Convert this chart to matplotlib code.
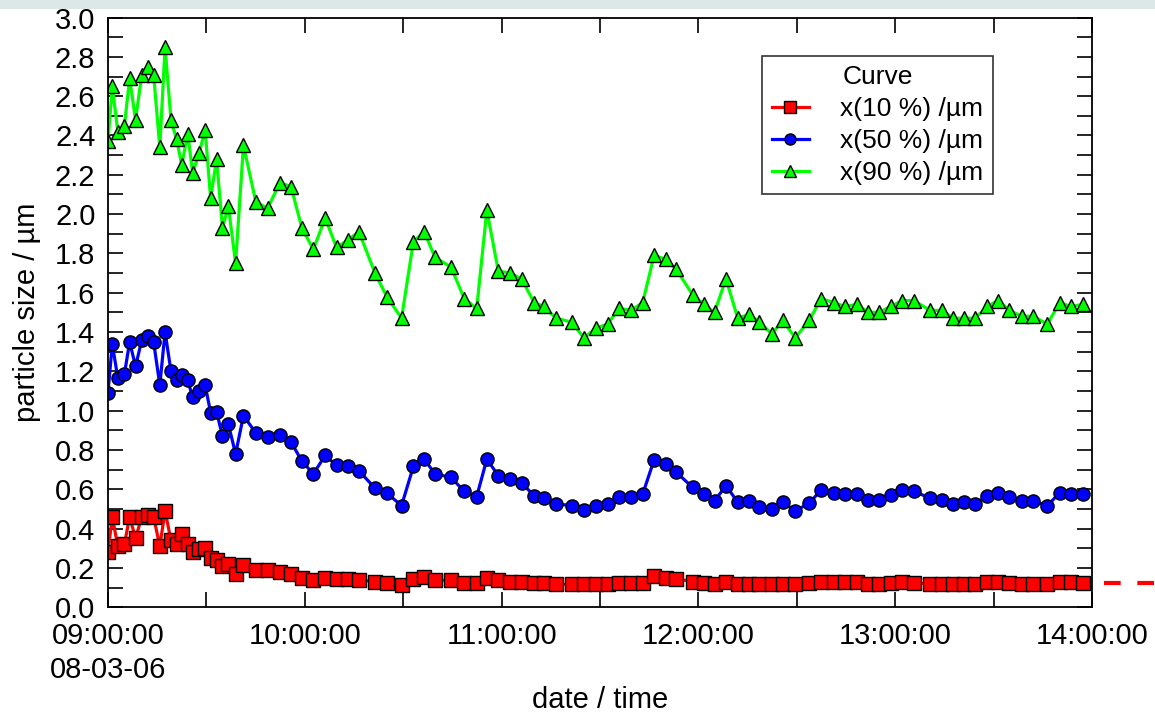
import datetime as dt
import matplotlib
matplotlib.use('Agg')
import matplotlib.pyplot as plt
import matplotlib.dates as mdates
from matplotlib.patches import Rectangle
from matplotlib.ticker import MultipleLocator

plt.rcParams['font.family'] = ['Liberation Sans', 'DejaVu Sans']

# minutes after 09:00:00 on 08-03-06
minutes = [0, 1.3, 3.0, 5.0, 6.6, 8.4, 10.3, 12.1, 13.9, 15.8, 17.4, 19.2, 20.9, 22.5,
           24.3, 25.8, 27.8, 29.6, 31.3, 33.1, 34.9, 36.7, 38.9, 41.3, 45.1, 48.7, 52.4, 55.8,
           59.1, 62.6, 66.2, 69.7, 73.3, 76.5, 81.4, 85.0, 89.5, 93.1, 96.4, 99.7, 104.6,
           108.6, 112.4, 115.5, 119.0, 122.6, 126.1, 129.9,
           132.9, 136.6, 141.4, 145.1, 148.8, 152.3, 155.8, 159.5, 163.0, 166.5, 170.0,
           173.2, 178.2, 181.7, 184.9, 188.4, 192.0, 195.5, 198.6, 202.4,
           205.7, 209.5, 213.8, 217.4, 221.2, 224.7, 228.3, 231.8, 235.1, 238.6, 242.2,
           245.7, 250.6, 254.2, 257.7, 261.0, 264.3, 268.1, 271.4, 274.8, 278.6, 282.1,
           286.4, 290.1, 293.5, 297.2]

x10 = [0.28, 0.46, 0.31, 0.32, 0.46, 0.35, 0.46, 0.47, 0.46, 0.31, 0.49, 0.34, 0.32, 0.37,
       0.32, 0.28, 0.295, 0.30, 0.25, 0.24, 0.21, 0.22, 0.17, 0.215, 0.19, 0.19, 0.18, 0.168,
       0.15, 0.137, 0.15, 0.145, 0.145, 0.138, 0.13, 0.121, 0.113, 0.145, 0.154, 0.137,
       0.137, 0.121, 0.121, 0.15, 0.137, 0.13, 0.13, 0.121,
       0.121, 0.116, 0.116, 0.116, 0.116, 0.116, 0.121, 0.125, 0.125, 0.159, 0.15, 0.145,
       0.13, 0.125, 0.116, 0.13, 0.116, 0.116, 0.116, 0.116,
       0.117, 0.117, 0.125, 0.127, 0.127, 0.127, 0.127, 0.117, 0.119, 0.122, 0.127, 0.124,
       0.117, 0.117, 0.117, 0.12, 0.12, 0.127, 0.127, 0.123, 0.117, 0.117, 0.117, 0.127,
       0.127, 0.123]

x50 = [1.09, 1.34, 1.165, 1.185, 1.35, 1.225, 1.36, 1.38, 1.35, 1.13, 1.40, 1.20, 1.157,
       1.18, 1.157, 1.067, 1.10, 1.13, 0.99, 0.995, 0.87, 0.93, 0.78, 0.975, 0.885, 0.865,
       0.877, 0.84,
       0.744, 0.678, 0.772, 0.721, 0.716, 0.694, 0.605, 0.58, 0.517, 0.716, 0.753, 0.678,
       0.66, 0.589, 0.563, 0.753, 0.669, 0.653, 0.631, 0.568,
       0.555, 0.525, 0.517, 0.492, 0.517, 0.525, 0.56, 0.56, 0.575, 0.75, 0.726, 0.687,
       0.61, 0.575, 0.541, 0.618, 0.534, 0.541, 0.512, 0.499,
       0.534, 0.49, 0.529, 0.597, 0.583, 0.576, 0.576, 0.546, 0.546, 0.571, 0.597, 0.589,
       0.555, 0.546, 0.525, 0.534, 0.525, 0.567, 0.583, 0.56, 0.541, 0.541, 0.515, 0.583,
       0.576, 0.576]

x90 = [2.37, 2.65, 2.42, 2.45, 2.69, 2.48, 2.71, 2.75, 2.71, 2.34, 2.85, 2.48, 2.38, 2.25,
       2.41, 2.21, 2.31, 2.43, 2.08, 2.28, 1.93, 2.04, 1.75, 2.35, 2.06, 2.03, 2.16, 2.14,
       1.93, 1.82, 1.98, 1.83, 1.87, 1.91, 1.70, 1.58, 1.47, 1.86, 1.91, 1.78, 1.73, 1.57,
       1.52, 2.02, 1.71, 1.70, 1.67, 1.55,
       1.53, 1.47, 1.45, 1.37, 1.42, 1.44, 1.52, 1.51, 1.55, 1.79, 1.77, 1.72, 1.59, 1.54,
       1.50, 1.67, 1.47, 1.49, 1.45, 1.39,
       1.46, 1.37, 1.46, 1.57, 1.55, 1.53, 1.54, 1.50, 1.50, 1.53, 1.56, 1.56, 1.51, 1.51,
       1.47, 1.47, 1.47, 1.53, 1.56, 1.51, 1.48, 1.48, 1.44, 1.55, 1.53, 1.54]

labels = ['x(10 %) /µm', 'x(50 %) /µm', 'x(90 %) /µm']

start = dt.datetime(2006, 3, 8, 9, 0, 0)
t = [start + dt.timedelta(minutes=m) for m in minutes]

fig = plt.figure(figsize=(11.55, 7.16), dpi=100)
# pale band along the top edge
fig.patches.append(Rectangle((0, 0.988), 1, 0.012, transform=fig.transFigure,
                             facecolor='#dce8e5', edgecolor='none', zorder=0))
ax = fig.add_axes([0.0935, 0.152, 0.852, 0.8235])

ax.plot(t, x10, color='#ff0000', lw=2.3, marker='s', ms=9.5, mfc='#ff0000',
        mec='black', mew=1.0, label=labels[0])
ax.plot(t, x50, color='#0000ff', lw=2.3, marker='o', ms=9.5, mfc='#0000ff',
        mec='black', mew=1.0, label=labels[1])
ax.plot(t, x90, color='#00ff00', lw=2.3, marker='^', ms=10.5, mfc='#00ff00',
        mec='black', mew=1.0, label=labels[2])

# the red curve sticks out past the right axis as a dashed stub
ax.plot([1.012, 1.07], [x10[-1], x10[-1]], transform=ax.get_yaxis_transform(),
        color='#ff0000', lw=3, ls=(0, (4, 4)), clip_on=False)

ax.set_xlim(start, start + dt.timedelta(hours=5))
ax.set_ylim(0, 3.0)

ax.xaxis.set_major_locator(mdates.HourLocator())
ax.xaxis.set_minor_locator(mdates.MinuteLocator(byminute=[30]))


def fmt_time(v, pos=None):
    d = mdates.num2date(v)
    s = d.strftime('%H:%M:%S')
    if pos == 0:
        s += '\n' + d.strftime('%y-%m-%d').replace('06-03-08', '08-03-06')
    return s


ax.xaxis.set_major_formatter(plt.FuncFormatter(fmt_time))
ax.yaxis.set_major_locator(MultipleLocator(0.2))
ax.yaxis.set_minor_locator(MultipleLocator(0.1))
ax.yaxis.set_major_formatter(plt.FuncFormatter(lambda v, p: f'{v:.1f}'))

ax.tick_params(which='both', direction='in', top=True, right=True, width=1.2,
               length=11, labelsize=21)
ax.tick_params(axis='y', pad=9)
ax.tick_params(axis='x', pad=11)
for lab in ax.get_xticklabels():
    lab.set_linespacing(1.25)
for s in ax.spines.values():
    s.set_linewidth(1.3)

ax.set_xlabel('date / time', fontsize=21, va='center')
ax.xaxis.set_label_coords(0.5, -0.158)
ax.set_ylabel('particle size / µm', fontsize=21, labelpad=10)

leg = ax.legend(title='Curve', loc='upper left', bbox_to_anchor=(0.665, 0.935),
                fontsize=19, title_fontsize=19, frameon=True, fancybox=False,
                edgecolor='black', handlelength=1.4, borderpad=0.35,
                labelspacing=0.3, handletextpad=1.2, borderaxespad=0)
leg.get_frame().set_linewidth(1.2)
for h in leg.legend_handles:
    h.set_markersize(8)

fig.savefig('out.png', dpi=100)
